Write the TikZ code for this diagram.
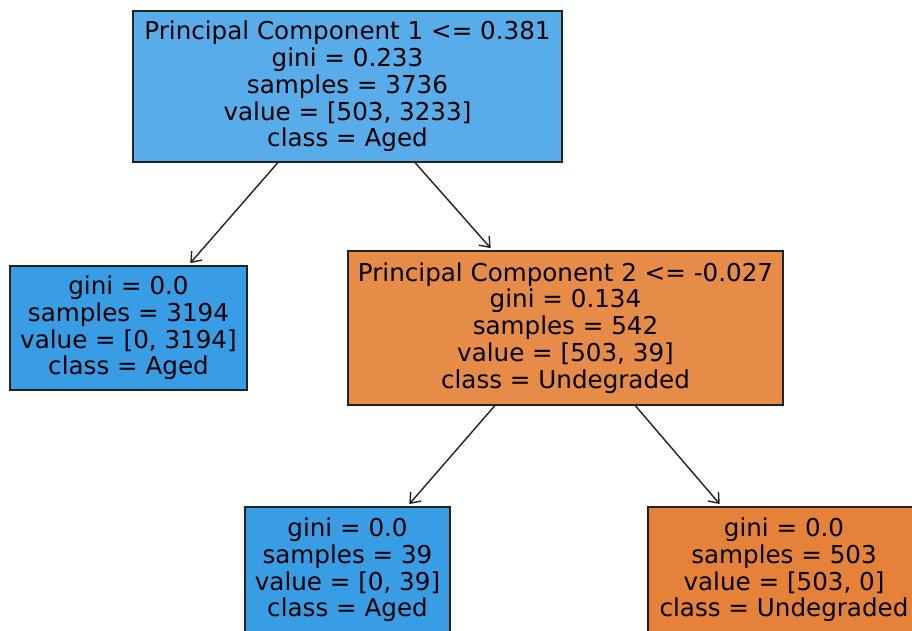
\documentclass[tikz,border=0pt]{standalone}
\usepackage{fontspec}
\setmainfont{DejaVu Sans}
\usetikzlibrary{arrows.meta,calc}
\definecolor{rootblue}{HTML}{58ACE9}
\definecolor{pureblue}{HTML}{399DE5}
\definecolor{midorange}{HTML}{E78B48}
\definecolor{pureorange}{HTML}{E58139}
\definecolor{edgegray}{HTML}{222222}
\begin{document}
\begin{tikzpicture}[x=1pt,y=-1pt,
  treenode/.style={draw=edgegray,line width=1.3pt,align=center,inner sep=0pt,
    font=\fontsize{24.6}{26.8}\selectfont,text=black},
  treeedge/.style={draw=edgegray,line width=1.4pt,shorten >=3pt,
    -{Straight Barb[length=9pt,width=14pt,line width=1.4pt]}}]
\useasboundingbox (0,0) rectangle (912,630);
\clip (0,0) rectangle (912,630);
\fill[white] (0,0) rectangle (912,630);
\node[treenode,fill=rootblue,minimum width=429pt,minimum height=151pt] (root) at (347.5,86.5)
  {Principal Component 1 <= 0.381\\gini = 0.233\\samples = 3736\\value = [503, 3233]\\class = Aged};
\node[treenode,fill=pureblue,minimum width=237pt,minimum height=124pt] (left) at (128.5,328)
  {gini = 0.0\\samples = 3194\\value = [0, 3194]\\class = Aged};
\node[treenode,fill=midorange,minimum width=435pt,minimum height=154pt] (mid) at (565.5,328)
  {Principal Component 2 <= -0.027\\gini = 0.134\\samples = 542\\value = [503, 39]\\class = Undegraded};
\node[treenode,fill=pureblue,minimum width=205pt,minimum height=126pt] (bl) at (347.5,570)
  {gini = 0.0\\samples = 39\\value = [0, 39]\\class = Aged};
\node[treenode,fill=pureorange,minimum width=272pt,minimum height=126pt] (br) at (784,570)
  {gini = 0.0\\samples = 503\\value = [503, 0]\\class = Undegraded};
\draw[treeedge] ($(root.south west)!0.338!(root.south east)$) -- ($(left.north west)!0.751!(left.north east)$);
\draw[treeedge] ($(root.south west)!0.657!(root.south east)$) -- ($(mid.north west)!0.333!(mid.north east)$);
\draw[treeedge] ($(mid.south west)!0.338!(mid.south east)$) -- ($(bl.north west)!0.79!(bl.north east)$);
\draw[treeedge] ($(mid.south west)!0.660!(mid.south east)$) -- ($(br.north west)!0.272!(br.north east)$);
\end{tikzpicture}
\end{document}
